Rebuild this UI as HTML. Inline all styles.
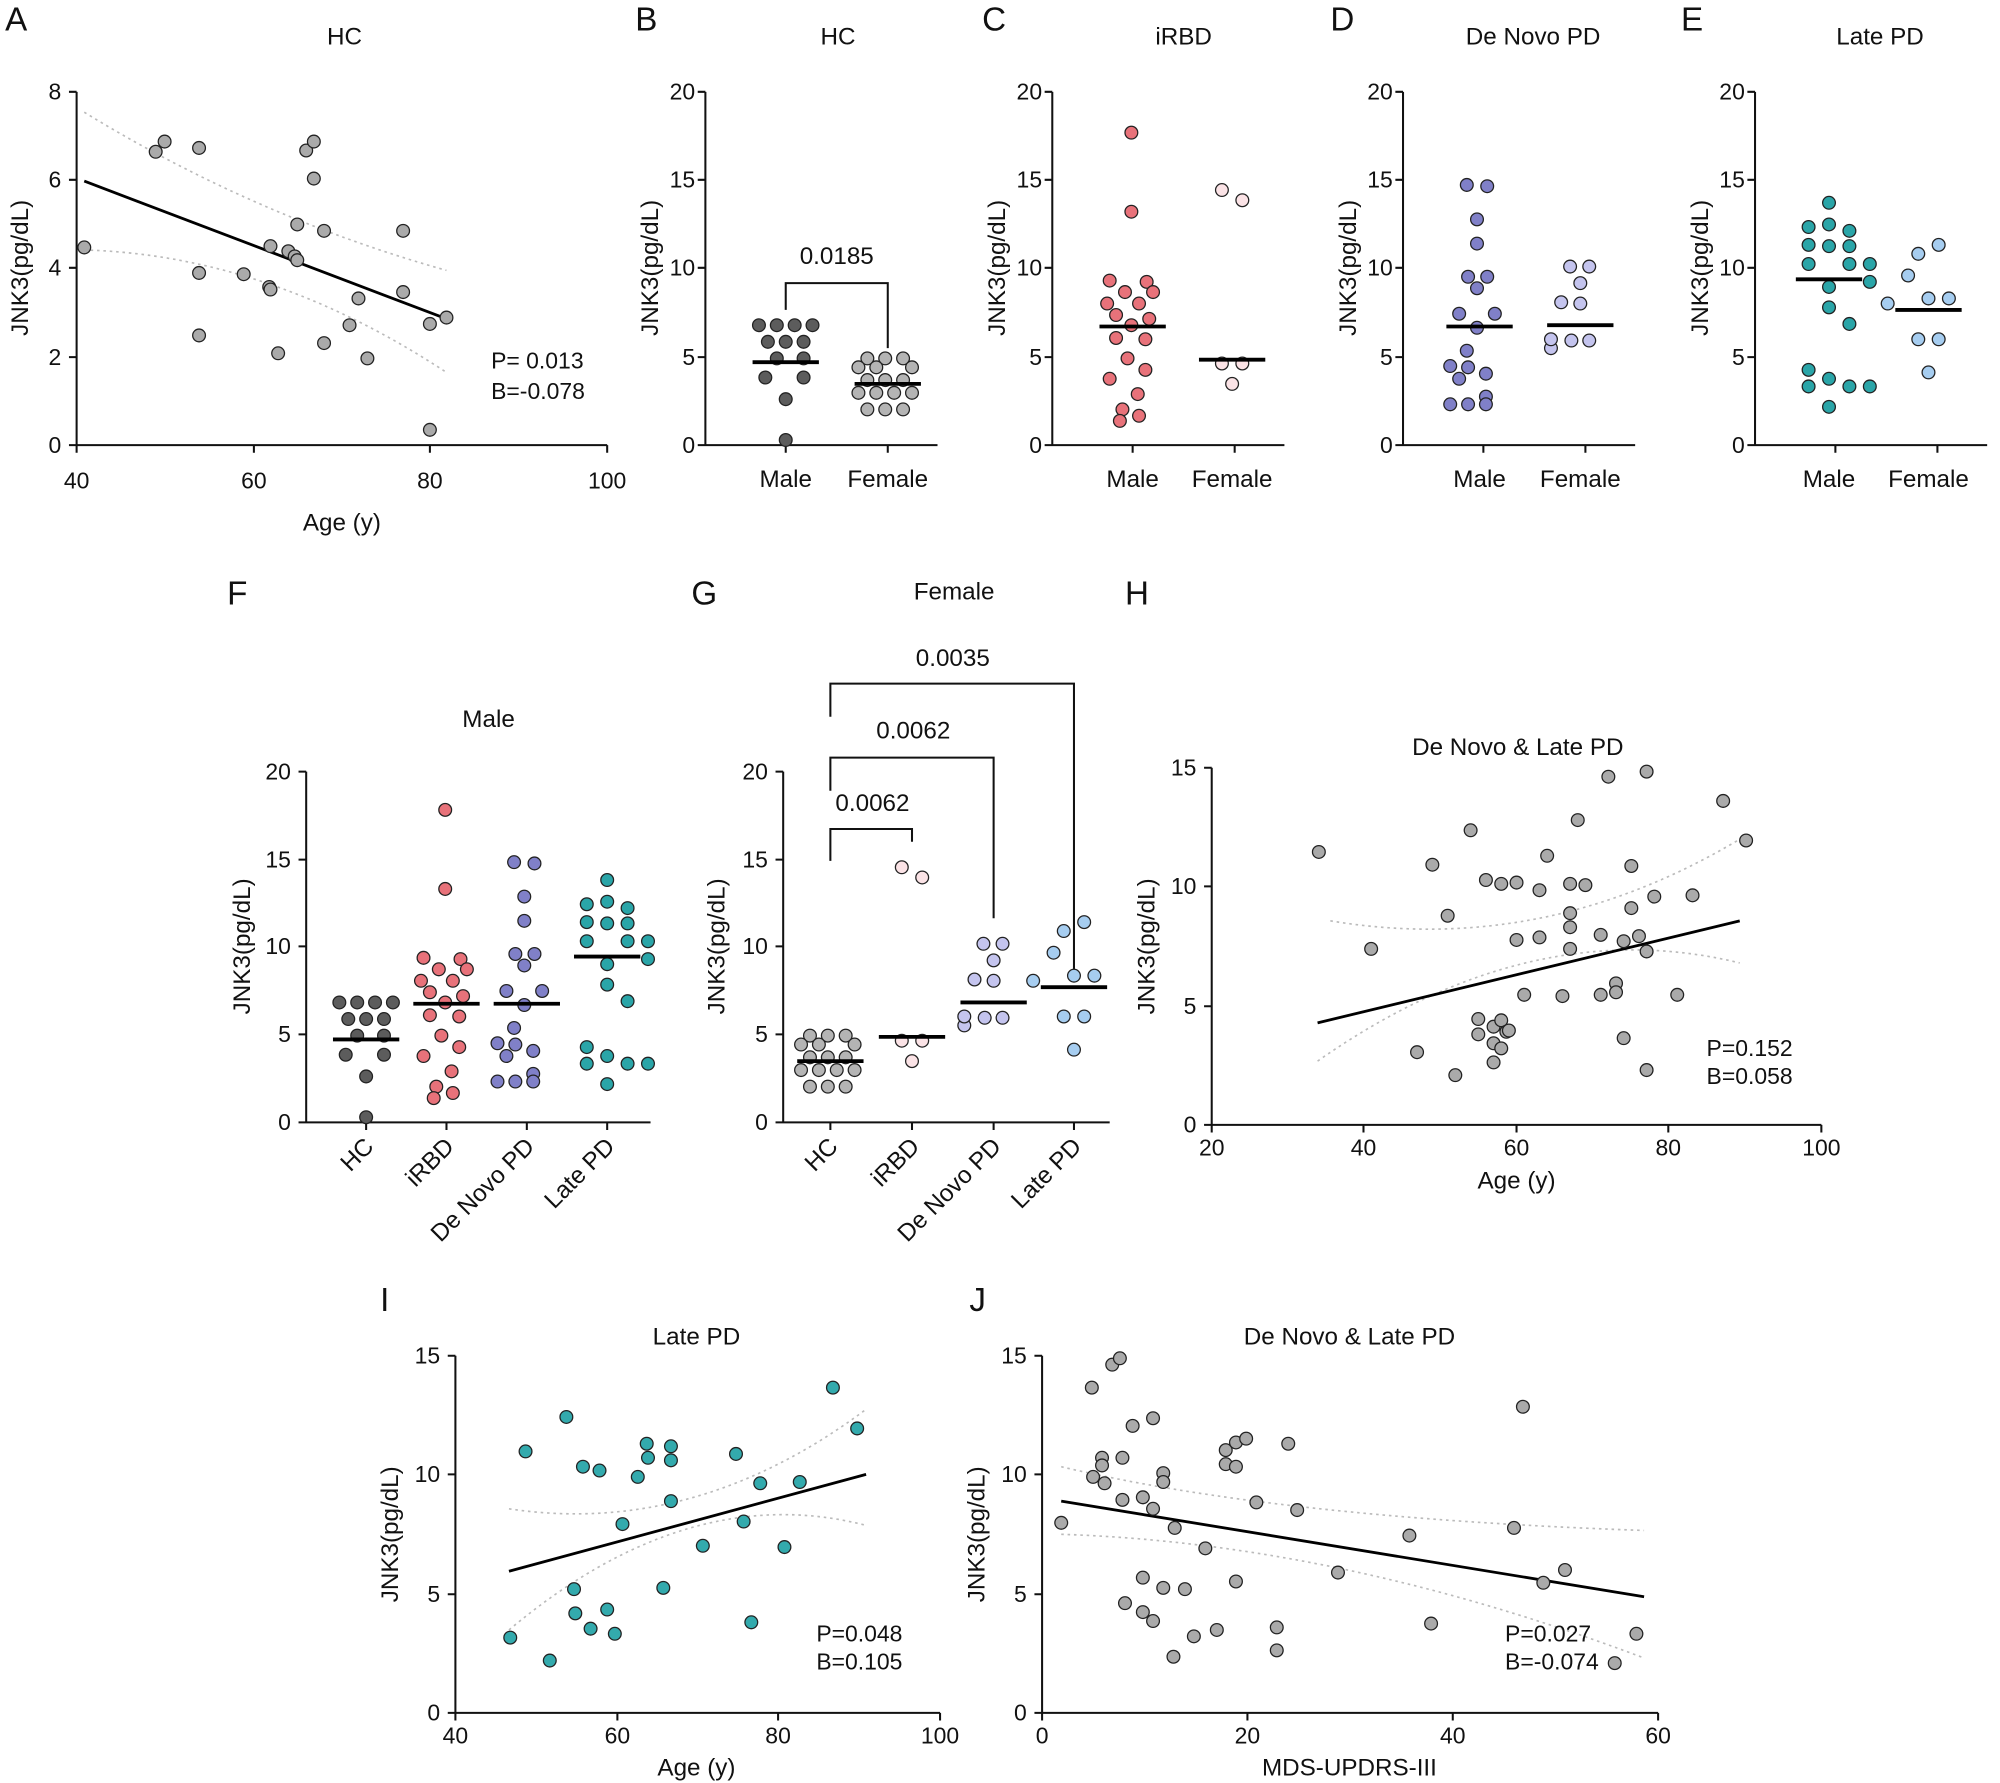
<!DOCTYPE html>
<html><head><meta charset="utf-8"><style>
html,body{margin:0;padding:0;background:#fff}
svg{display:block}
text{font-family:"Liberation Sans",Arial,sans-serif;fill:#111}
.t{font-size:18px}
.ax{font-size:19px}
.ttl{font-size:19px}
.L{font-size:26px}
.a{stroke:#111;stroke-width:1.6;fill:none}
.ci{stroke:#bbb;stroke-width:1.3;fill:none;stroke-dasharray:2,3}
.m{stroke:#000;stroke-width:3}
.rl{stroke:#000;stroke-width:2.2}
</style></head><body>
<svg id="s" width="2000" height="1783" viewBox="0 0 1568 1398" xmlns="http://www.w3.org/2000/svg">
<text class="L" x="4" y="24">A</text><text class="L" x="498" y="24">B</text><text class="L" x="770" y="24">C</text><text class="L" x="1043" y="24">D</text><text class="L" x="1318" y="24">E</text>
<text class="L" x="178" y="474">F</text><text class="L" x="542" y="474">G</text><text class="L" x="882" y="474">H</text>
<text class="L" x="298" y="1028">I</text><text class="L" x="760" y="1028">J</text>

<text class="ttl" x="270" y="35" text-anchor="middle">HC</text>
<path class="a" d="M60,72V349H476M54,72H60M54,141H60M54,210H60M54,280H60M54,349H60M60,349v6M199,349v6M337,349v6M476,349v6"/>
<g class="t" text-anchor="end"><text x="48" y="78">8</text><text x="48" y="147">6</text><text x="48" y="216">4</text><text x="48" y="286">2</text><text x="48" y="355">0</text></g>
<g class="t" text-anchor="middle"><text x="60" y="383">40</text><text x="199" y="383">60</text><text x="337" y="383">80</text><text x="476" y="383">100</text></g>
<text class="ax" x="268" y="416" text-anchor="middle">Age (y)</text>
<text class="ax" transform="translate(22,210) rotate(-90)" text-anchor="middle">JNK3(pg/dL)</text>
<path class="ci" d="M66,88Q200,170 350,212"/><path class="ci" d="M66,196Q210,200 350,292"/>
<line class="rl" x1="66" y1="142" x2="350" y2="250"/>
<g id="pA"></g>
<text class="t" x="385" y="289">P= 0.013</text><text class="t" x="385" y="313">B=-0.078</text>

<g id="bcde"></g>
<text class="ttl" x="657" y="35" text-anchor="middle">HC</text>
<text class="ttl" x="928" y="35" text-anchor="middle">iRBD</text>
<text class="ttl" x="1202" y="35" text-anchor="middle">De Novo PD</text>
<text class="ttl" x="1474" y="35" text-anchor="middle">Late PD</text>
<g class="t" text-anchor="end">
<text x="545" y="78">20</text><text x="545" y="147">15</text><text x="545" y="216">10</text><text x="545" y="286">5</text><text x="545" y="355">0</text>
<text x="817" y="78">20</text><text x="817" y="147">15</text><text x="817" y="216">10</text><text x="817" y="286">5</text><text x="817" y="355">0</text>
<text x="1092" y="78">20</text><text x="1092" y="147">15</text><text x="1092" y="216">10</text><text x="1092" y="286">5</text><text x="1092" y="355">0</text>
<text x="1368" y="78">20</text><text x="1368" y="147">15</text><text x="1368" y="216">10</text><text x="1368" y="286">5</text><text x="1368" y="355">0</text>
</g>
<g class="ax" text-anchor="middle">
<text x="616" y="382">Male</text><text x="696" y="382">Female</text>
<text x="888" y="382">Male</text><text x="966" y="382">Female</text>
<text x="1160" y="382">Male</text><text x="1239" y="382">Female</text>
<text x="1434" y="382">Male</text><text x="1512" y="382">Female</text>
</g>
<g class="ax" text-anchor="middle">
<text transform="translate(516,210) rotate(-90)">JNK3(pg/dL)</text>
<text transform="translate(788,210) rotate(-90)">JNK3(pg/dL)</text>
<text transform="translate(1063,210) rotate(-90)">JNK3(pg/dL)</text>
<text transform="translate(1339,210) rotate(-90)">JNK3(pg/dL)</text>
</g>
<path class="a" d="M616,243V222H696V273"/>
<text class="ax" x="656" y="207" text-anchor="middle">0.0185</text>

<text class="ttl" x="383" y="570" text-anchor="middle">Male</text>
<path class="a" d="M240,605V880H510M234,605H240M234,674H240M234,742H240M234,811H240M234,880H240M287,880v6M350,880v6M413,880v6M476,880v6"/>
<g class="t" text-anchor="end"><text x="228" y="611">20</text><text x="228" y="680">15</text><text x="228" y="748">10</text><text x="228" y="817">5</text><text x="228" y="886">0</text></g>
<text class="ax" transform="translate(196,742) rotate(-90)" text-anchor="middle">JNK3(pg/dL)</text>
<g class="ax" text-anchor="end">
<text transform="translate(294,900) rotate(-45)">HC</text>
<text transform="translate(357,900) rotate(-45)">iRBD</text>
<text transform="translate(420,900) rotate(-45)">De Novo PD</text>
<text transform="translate(483,900) rotate(-45)">Late PD</text>
</g>
<g id="pF"></g>

<text class="ttl" x="748" y="470" text-anchor="middle">Female</text>
<path class="a" d="M614,605V880H870M608,605H614M608,674H614M608,742H614M608,811H614M608,880H614M651,880v6M715,880v6M779,880v6M842,880v6"/>
<g class="t" text-anchor="end"><text x="602" y="611">20</text><text x="602" y="680">15</text><text x="602" y="748">10</text><text x="602" y="817">5</text><text x="602" y="886">0</text></g>
<text class="ax" transform="translate(568,742) rotate(-90)" text-anchor="middle">JNK3(pg/dL)</text>
<g class="ax" text-anchor="end">
<text transform="translate(658,900) rotate(-45)">HC</text>
<text transform="translate(722,900) rotate(-45)">iRBD</text>
<text transform="translate(786,900) rotate(-45)">De Novo PD</text>
<text transform="translate(849,900) rotate(-45)">Late PD</text>
</g>
<path class="a" d="M651,675V650H715V660M651,620V594H779V720M651,562V536H842V765"/>
<g class="ax" text-anchor="middle"><text x="684" y="636">0.0062</text><text x="716" y="579">0.0062</text><text x="747" y="522">0.0035</text></g>
<g id="pG"></g>

<text class="ttl" x="1190" y="592" text-anchor="middle">De Novo &amp; Late PD</text>
<path class="a" d="M950,602V882H1428M944,602H950M944,695H950M944,789H950M944,882H950M950,882v6M1069,882v6M1189,882v6M1308,882v6M1428,882v6"/>
<g class="t" text-anchor="end"><text x="938" y="608">15</text><text x="938" y="701">10</text><text x="938" y="795">5</text><text x="938" y="888">0</text></g>
<g class="t" text-anchor="middle"><text x="950" y="906">20</text><text x="1069" y="906">40</text><text x="1189" y="906">60</text><text x="1308" y="906">80</text><text x="1428" y="906">100</text></g>
<text class="ax" x="1189" y="932" text-anchor="middle">Age (y)</text>
<text class="ax" transform="translate(905,742) rotate(-90)" text-anchor="middle">JNK3(pg/dL)</text>
<path class="ci" d="M1043,722Q1210,750 1364,658"/><path class="ci" d="M1033,832Q1200,715 1364,755"/>
<line class="rl" x1="1033" y1="802" x2="1364" y2="722"/>
<g id="pH"></g>
<text class="t" x="1338" y="828">P=0.152</text><text class="t" x="1338" y="850">B=0.058</text>

<text class="ttl" x="546" y="1054" text-anchor="middle">Late PD</text>
<path class="a" d="M357,1063V1343H737M351,1063H357M351,1156H357M351,1250H357M351,1343H357M357,1343v6M484,1343v6M610,1343v6M737,1343v6"/>
<g class="t" text-anchor="end"><text x="345" y="1069">15</text><text x="345" y="1162">10</text><text x="345" y="1256">5</text><text x="345" y="1349">0</text></g>
<g class="t" text-anchor="middle"><text x="357" y="1367">40</text><text x="484" y="1367">60</text><text x="610" y="1367">80</text><text x="737" y="1367">100</text></g>
<text class="ax" x="546" y="1392" text-anchor="middle">Age (y)</text>
<text class="ax" transform="translate(312,1203) rotate(-90)" text-anchor="middle">JNK3(pg/dL)</text>
<path class="ci" d="M399,1183Q545,1205 679,1105"/><path class="ci" d="M399,1278Q540,1160 679,1196"/>
<line class="rl" x1="399" y1="1232" x2="679" y2="1156"/>
<g id="pI"></g>
<text class="t" x="640" y="1287">P=0.048</text><text class="t" x="640" y="1309">B=0.105</text>

<text class="ttl" x="1058" y="1054" text-anchor="middle">De Novo &amp; Late PD</text>
<path class="a" d="M817,1063V1343H1300M811,1063H817M811,1156H817M811,1250H817M811,1343H817M817,1343v6M978,1343v6M1139,1343v6M1300,1343v6"/>
<g class="t" text-anchor="end"><text x="805" y="1069">15</text><text x="805" y="1162">10</text><text x="805" y="1256">5</text><text x="805" y="1349">0</text></g>
<g class="t" text-anchor="middle"><text x="817" y="1367">0</text><text x="978" y="1367">20</text><text x="1139" y="1367">40</text><text x="1300" y="1367">60</text></g>
<text class="ax" x="1058" y="1392" text-anchor="middle">MDS-UPDRS-III</text>
<text class="ax" transform="translate(772,1203) rotate(-90)" text-anchor="middle">JNK3(pg/dL)</text>
<path class="ci" d="M832,1150Q1000,1190 1289,1200"/><path class="ci" d="M832,1203Q1050,1210 1289,1300"/>
<line class="rl" x1="832" y1="1177" x2="1289" y2="1252"/>
<g id="pJ"></g>
<text class="t" x="1180" y="1287">P=0.027</text><text class="t" x="1180" y="1309">B=-0.074</text>
</svg>
<script>
var NS="http://www.w3.org/2000/svg";
function c(g,pts,fill,dx,dy){var e=document.getElementById(g);pts.forEach(function(p){var k=document.createElementNS(NS,"circle");k.setAttribute("cx",p[0]+(dx||0));k.setAttribute("cy",p[1]+(dy||0));k.setAttribute("r",5);k.setAttribute("fill",fill);k.setAttribute("stroke","#222");k.setAttribute("stroke-width","1");e.appendChild(k);});}
function ln(g,x,y,dx,dy){var e=document.getElementById(g);var l=document.createElementNS(NS,"line");l.setAttribute("x1",x-26+(dx||0));l.setAttribute("x2",x+26+(dx||0));l.setAttribute("y1",y+(dy||0));l.setAttribute("y2",y+(dy||0));l.setAttribute("class","m");e.appendChild(l);}
c("pA",[[66,194],[122,119],[129,111],[156,116],[156,214],[156,263],[191,215],[211,225],[212,227],[212,193],[218,277],[226,197],[231,201],[233,204],[233,176],[240,118],[246,111],[246,140],[254,181],[254,269],[274,255],[281,234],[288,281],[316,181],[316,229],[337,254],[337,337],[350,249]],"#aaa");
var b=document.getElementById("bcde");
[553,825,1100,1376].forEach(function(x){var p=document.createElementNS(NS,"path");p.setAttribute("class","a");p.setAttribute("d","M"+x+",72V349H"+(x+182)+"M"+(x-6)+",72H"+x+"M"+(x-6)+",141H"+x+"M"+(x-6)+",210H"+x+"M"+(x-6)+",280H"+x+"M"+(x-6)+",349H"+x+"M"+(x+63)+",349v6M"+(x+143)+",349v6");b.appendChild(p);});
var Bm=[[595,255],[609,255],[623,255],[637,255],[602,268],[616,268],[630,268],[609,281],[630,281],[600,296],[630,296],[616,313],[616,345]];
var Bf=[[680,281],[694,281],[708,281],[673,288],[687,288],[715,288],[680,298],[694,298],[708,298],[673,308],[687,308],[701,308],[715,308],[680,321],[694,321],[708,321]];
var Cm=[[887,104],[887,166],[870,220],[899,221],[882,229],[904,229],[868,238],[893,238],[875,247],[901,250],[887,255],[875,265],[898,266],[884,281],[898,290],[870,297],[892,309],[880,321],[878,330],[893,326]];
var Cf=[[958,149],[974,157],[958,285],[974,285],[966,301]];
var Dm=[[1150,145],[1166,146],[1158,172],[1158,191],[1151,217],[1166,217],[1158,226],[1144,246],[1172,246],[1158,257],[1150,275],[1137,287],[1151,288],[1165,293],[1144,297],[1165,311],[1137,317],[1151,317],[1165,317]];
var Df=[[1231,209],[1246,209],[1239,222],[1224,237],[1239,238],[1216,273],[1232,267],[1246,267],[1216,266]];
var Em=[[1434,159],[1418,178],[1434,176],[1450,181],[1418,192],[1434,193],[1450,193],[1418,207],[1450,207],[1466,207],[1466,221],[1434,225],[1434,241],[1450,254],[1418,290],[1434,297],[1418,303],[1450,303],[1466,303],[1434,319]];
var Ef=[[1520,192],[1504,199],[1496,216],[1512,234],[1528,234],[1480,238],[1504,266],[1520,266],[1512,292]];
var K={hm:"#5c5c5c",hf:"#b4b4b4",rm:"#e8727a",rf:"#fbe3e6",dm:"#8080c8",df:"#c4c4ee",em:"#2aa5a8",ef:"#a6cdf0"};
c("bcde",Bm,K.hm);c("bcde",Bf,K.hf);c("bcde",Cm,K.rm);c("bcde",Cf,K.rf);c("bcde",Dm,K.dm);c("bcde",Df,K.df);c("bcde",Em,K.em);c("bcde",Ef,K.ef);
ln("bcde",616,284);ln("bcde",696,301);ln("bcde",888,256);ln("bcde",966,282);ln("bcde",1160,256);ln("bcde",1239,255);ln("bcde",1434,219);ln("bcde",1512,243);
var dy=531;
c("pF",Bm,K.hm,-329,dy);ln("pF",616,284,-329,dy);
c("pF",Cm,K.rm,-538,dy);ln("pF",888,256,-538,dy);
c("pF",Dm,K.dm,-747,dy);ln("pF",1160,256,-747,dy);
c("pF",Em,K.em,-958,dy);ln("pF",1434,219,-958,dy);
c("pG",Bf,K.hf,-45,dy);ln("pG",696,301,-45,dy);
c("pG",Cf,K.rf,-251,dy);ln("pG",966,282,-251,dy);
c("pG",Df,K.df,-460,dy);ln("pG",1239,255,-460,dy);
c("pG",Ef,K.ef,-670,dy);ln("pG",1512,243,-670,dy);
c("pH",[[1034,668],[1075,744],[1111,825],[1123,678],[1135,718],[1141,843],[1153,651],[1159,799],[1159,811],[1165,690],[1171,818],[1171,833],[1171,805],[1177,693],[1177,800],[1177,822],[1181,809],[1183,808],[1189,692],[1189,737],[1195,780],[1207,735],[1207,698],[1213,671],[1225,781],[1231,693],[1231,716],[1231,727],[1231,744],[1237,643],[1243,694],[1255,733],[1255,780],[1261,609],[1267,771],[1267,778],[1273,814],[1273,738],[1279,679],[1279,712],[1285,734],[1291,605],[1291,746],[1291,839],[1297,703],[1315,780],[1327,702],[1351,628],[1369,659]],"#aaa");
c("pI",[[400,1284],[412,1138],[431,1302],[444,1111],[450,1246],[451,1265],[457,1150],[463,1277],[470,1153],[476,1262],[482,1281],[488,1195],[500,1158],[507,1132],[508,1143],[526,1134],[526,1145],[526,1177],[520,1245],[551,1212],[577,1140],[583,1193],[589,1272],[596,1163],[615,1213],[627,1162],[653,1088],[672,1120]],"#33aaad");
c("pJ",[[832,1194],[856,1088],[857,1158],[864,1143],[864,1149],[866,1163],[872,1070],[878,1065],[880,1176],[880,1143],[882,1257],[888,1118],[896,1174],[896,1237],[896,1264],[904,1112],[904,1183],[904,1271],[912,1155],[912,1162],[912,1245],[920,1299],[921,1198],[929,1246],[936,1283],[945,1214],[954,1278],[961,1137],[961,1148],[969,1150],[969,1131],[969,1240],[977,1128],[985,1178],[1001,1276],[1001,1294],[1010,1132],[1017,1184],[1049,1233],[1105,1204],[1122,1273],[1187,1198],[1194,1103],[1210,1241],[1227,1231],[1266,1304],[1283,1281]],"#aaa");
</script>
</body></html>
